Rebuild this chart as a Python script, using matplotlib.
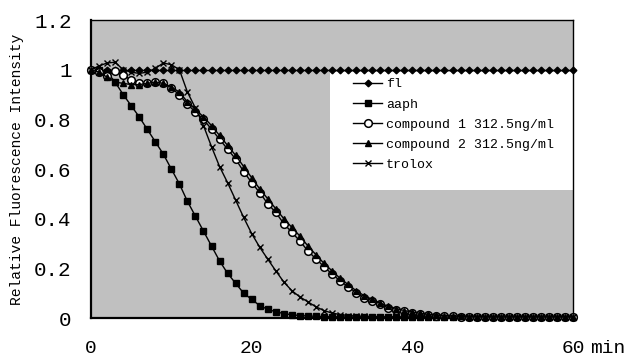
import numpy as np
import matplotlib as mpl
mpl.use('Agg')
import matplotlib.pyplot as plt
from matplotlib.patches import Rectangle

# time in minutes, one reading per minute
minutes = list(range(0, 61))

fl = [1.0, 1.0, 1.0, 1.0, 1.0, 1.0, 1.0, 1.0, 1.0, 1.0,
      1.0, 1.0, 1.0, 1.0, 1.0, 1.0, 1.0, 1.0, 1.0, 1.0,
      1.0, 1.0, 1.0, 1.0, 1.0, 1.0, 1.0, 1.0, 1.0, 1.0,
      1.0, 1.0, 1.0, 1.0, 1.0, 1.0, 1.0, 1.0, 1.0, 1.0,
      1.0, 1.0, 1.0, 1.0, 1.0, 1.0, 1.0, 1.0, 1.0, 1.0,
      1.0, 1.0, 1.0, 1.0, 1.0, 1.0, 1.0, 1.0, 1.0, 1.0, 1.0]

aaph = [1.0, 1.0, 0.99, 0.95, 0.90, 0.855, 0.81, 0.76, 0.71, 0.66,
        0.60, 0.54, 0.47, 0.41, 0.35, 0.29, 0.23, 0.18, 0.14, 0.10,
        0.075, 0.05, 0.035, 0.025, 0.018, 0.013, 0.01, 0.008, 0.007, 0.006,
        0.005, 0.005, 0.004, 0.004, 0.004, 0.003, 0.003, 0.003, 0.003, 0.003,
        0.003, 0.003, 0.003, 0.003, 0.003, 0.003, 0.003, 0.003, 0.003, 0.003,
        0.003, 0.003, 0.003, 0.003, 0.003, 0.003, 0.003, 0.003, 0.003, 0.003, 0.003]

compound1 = [1.0, 0.99, 0.975, 0.995, 0.98, 0.957, 0.946, 0.946, 0.952, 0.946,
             0.925, 0.90, 0.86, 0.83, 0.80, 0.76, 0.72, 0.68, 0.64, 0.59,
             0.545, 0.505, 0.46, 0.425, 0.38, 0.345, 0.31, 0.27, 0.238, 0.207,
             0.177, 0.15, 0.126, 0.102, 0.08, 0.068, 0.055, 0.04, 0.034, 0.027,
             0.02, 0.016, 0.012, 0.01, 0.008, 0.007, 0.006, 0.005, 0.005, 0.005,
             0.004, 0.004, 0.004, 0.004, 0.004, 0.004, 0.004, 0.004, 0.004, 0.004, 0.004]

compound2 = [1.0, 0.99, 0.97, 0.95, 0.945, 0.94, 0.94, 0.945, 0.95, 0.945,
             0.93, 0.91, 0.87, 0.84, 0.81, 0.775, 0.735, 0.695, 0.655, 0.61,
             0.565, 0.52, 0.48, 0.44, 0.40, 0.365, 0.33, 0.29, 0.255, 0.22,
             0.19, 0.16, 0.135, 0.11, 0.09, 0.075, 0.06, 0.047, 0.038, 0.03,
             0.024, 0.019, 0.015, 0.012, 0.01, 0.008, 0.007, 0.006, 0.006, 0.005,
             0.005, 0.005, 0.005, 0.005, 0.005, 0.005, 0.005, 0.005, 0.005, 0.005, 0.005]

trolox = [1.0, 1.015, 1.027, 1.03, 1.0, 0.99, 0.985, 0.99, 1.005, 1.027,
          1.02, 1.0, 0.91, 0.845, 0.775, 0.69, 0.61, 0.545, 0.475, 0.405,
          0.34, 0.285, 0.237, 0.19, 0.145, 0.11, 0.085, 0.065, 0.045, 0.03,
          0.02, 0.014, 0.01, 0.008, 0.007, 0.006, 0.005, 0.005, 0.005, 0.004,
          0.004, 0.004, 0.004, 0.004, 0.004, 0.004, 0.004, 0.004, 0.004, 0.004,
          0.004, 0.004, 0.004, 0.004, 0.004, 0.004, 0.004, 0.004, 0.004, 0.004, 0.004]

series_names = ['fl', 'aaph', 'compound 1 312.5ng/ml', 'compound 2 312.5ng/ml', 'trolox']
y_ticks = [0, 0.2, 0.4, 0.6, 0.8, 1.0, 1.2]
y_tick_labels = ['0', '0.2', '0.4', '0.6', '0.8', '1', '1.2']
x_ticks = [0, 20, 40, 60]
x_tick_labels = ['0', '20', '40', '60']

font = 'Liberation Mono'
plt.rcParams['font.family'] = [font, 'DejaVu Sans']

fig = plt.figure(figsize=(6.32, 3.62), dpi=100)
ax = fig.add_axes([0.144, 0.1215, 0.7627, 0.8232])
ax.set_facecolor('#c0c0c0')

styles = [
    dict(marker='D', ms=3.4, mfc='black', mec='black'),
    dict(marker='s', ms=5, mfc='black', mec='black'),
    dict(marker='o', ms=5.5, mfc='white', mec='black', mew=1.1),
    dict(marker='^', ms=5, mfc='black', mec='black'),
    dict(marker='x', ms=5, mfc='black', mec='black', mew=1.0),
]
data = [fl, aaph, compound1, compound2, trolox]

handles = []
for i in range(len(data)):
    h, = ax.plot(minutes, data[i], color='black', lw=1.0, label=series_names[i],
                 clip_on=False, zorder=3 + i * 0.1, **styles[i])
    handles.append(h)

ax.set_xlim(0, 60)
ax.set_ylim(0, 1.2)
ax.set_yticks(y_ticks)
ax.set_yticklabels(y_tick_labels)
ax.set_xticks(x_ticks)
ax.set_xticklabels(x_tick_labels)
ax.tick_params(axis='y', length=0, pad=14, labelsize=15)
ax.tick_params(axis='x', length=0, pad=16, labelsize=14)
ax.annotate('min', xy=(60, 0), xycoords='data', xytext=(12, -16),
            textcoords='offset points', ha='left', va='top', fontsize=14)

ax.set_ylabel('Relative Fluorescence Intensity', fontsize=10.5, labelpad=7)

for s in ax.spines.values():
    s.set_color('black')
    s.set_linewidth(1.0)
ax.spines['left'].set_linewidth(1.6)
ax.spines['bottom'].set_linewidth(1.6)

# white legend panel
ax.add_patch(Rectangle((0.496, 0.43), 0.504, 0.395, transform=ax.transAxes,
                       facecolor='white', edgecolor='none', zorder=2.5))
ax.legend(handles=handles, loc='upper left', bbox_to_anchor=(0.5436, 0.805),
          frameon=False, fontsize=9.5, handlelength=2.2, handletextpad=0.3,
          labelspacing=0.6, borderpad=0, borderaxespad=0)

plt.savefig('out.png', dpi=100)
plt.close()
